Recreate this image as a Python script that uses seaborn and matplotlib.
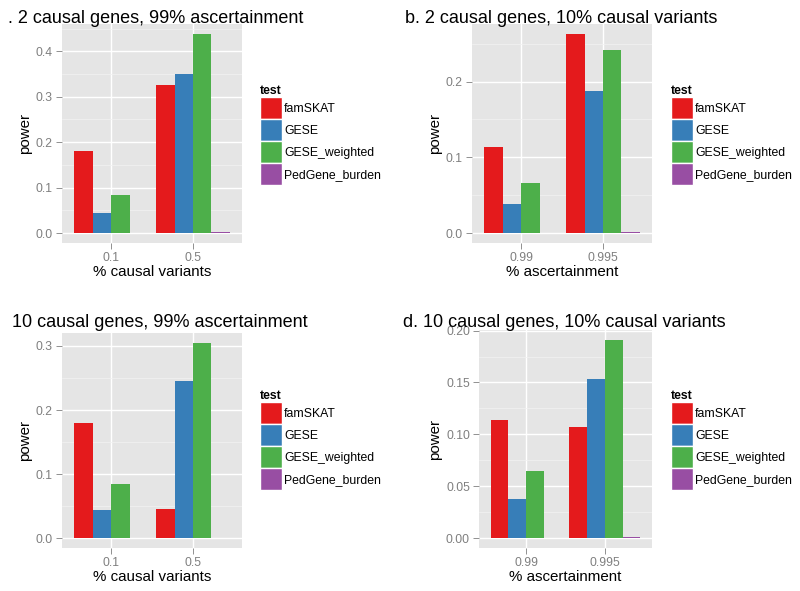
import numpy as np
import pandas as pd
import matplotlib
matplotlib.use("Agg")
import matplotlib.pyplot as plt
from matplotlib.patches import Patch
from matplotlib.ticker import MultipleLocator, FormatStrFormatter
import seaborn as sns

# data
tests = ["famSKAT", "GESE", "GESE_weighted", "PedGene_burden"]
test_colors = ["#E41A1C", "#377EB8", "#4DAF4A", "#984EA3"]

pct_causal = ["0.1", "0.5"]
pct_ascert = ["0.99", "0.995"]

# one list per test, values for the two x categories
power_a = [[0.180, 0.326], [0.044, 0.350], [0.084, 0.438], [0.0, 0.003]]
power_b = [[0.114, 0.263], [0.038, 0.187], [0.066, 0.242], [0.0, 0.001]]
power_c = [[0.180, 0.045], [0.044, 0.246], [0.084, 0.305], [0.0, 0.0]]
power_d = [[0.114, 0.107], [0.038, 0.153], [0.065, 0.191], [0.0, 0.001]]

titles = [". 2 causal genes, 99% ascertainment",
          "b. 2 causal genes, 10% causal variants",
          "10 causal genes, 99% ascertainment",
          "d. 10 causal genes, 10% causal variants"]

W, H = 800, 591
fig = plt.figure(figsize=(8, 5.91), dpi=100)
plt.rcParams["font.family"] = ["Liberation Sans", "DejaVu Sans"]


def long_df(cats, vals):
    rows = []
    for t, v in zip(tests, vals):
        for c, p in zip(cats, v):
            rows.append({"x": c, "power": p, "test": t})
    return pd.DataFrame(rows)


# panel boxes in pixels: left, right, top, bottom
panels = [
    (power_a, pct_causal, "% causal variants", (62, 242, 24, 243), 0.1, (8, 23), (260, 85)),
    (power_b, pct_ascert, "% ascertainment", (472, 652, 24, 243), 0.1, (405, 23), (671, 85)),
    (power_c, pct_causal, "% causal variants", (62, 242, 333, 548), 0.1, (12, 327), (260, 390)),
    (power_d, pct_ascert, "% ascertainment", (479, 652, 330, 548), 0.05, (403, 327), (671, 390)),
]

for i, (vals, cats, xlab, box, step, tpos, lpos) in enumerate(panels):
    l, r, t, b = box
    ax = fig.add_axes([l / W, 1 - b / H, (r - l) / W, (b - t) / H])
    df = long_df(cats, vals)
    sns.barplot(data=df, x="x", y="power", hue="test", hue_order=tests,
                order=cats, palette=test_colors, saturation=1, width=0.9,
                linewidth=0, ax=ax, legend=False, errorbar=None)
    ax.set_facecolor("#E5E5E5")
    for s in ax.spines.values():
        s.set_visible(False)
    ymax = max(max(v) for v in vals)
    ax.set_ylim(-0.05 * ymax, 1.05 * ymax)
    ax.set_xlim(-0.6, 1.6)
    ax.yaxis.set_major_locator(MultipleLocator(step))
    ax.yaxis.set_minor_locator(MultipleLocator(step / 2))
    ax.yaxis.set_major_formatter(FormatStrFormatter("%.2f" if step == 0.05 else "%.1f"))
    ax.set_axisbelow(True)
    ax.grid(which="major", color="white", linewidth=1.0)
    ax.grid(which="minor", axis="y", color="#F2F2F2", linewidth=0.5)
    ax.tick_params(which="major", colors="#7F7F7F", length=4, width=0.6,
                   labelsize=8.7, pad=2.5)
    ax.tick_params(which="minor", length=0)
    ax.set_xlabel(xlab, fontsize=10.9, labelpad=1)
    ax.set_ylabel("power", fontsize=10.9, labelpad=3)

    fig.text(tpos[0] / W, 1 - tpos[1] / H, titles[i], fontsize=13,
             ha="left", va="baseline")

    handles = [Patch(facecolor=c, edgecolor="white", linewidth=1.0) for c in test_colors]
    ax.legend(handles, tests, loc="upper left",
              bbox_to_anchor=(lpos[0] / W, 1 - lpos[1] / H),
              bbox_transform=fig.transFigure, frameon=False,
              borderpad=0, borderaxespad=0, labelspacing=0,
              handlelength=1.78, handleheight=2.4, handletextpad=0.2,
              fontsize=8.8, title="test", alignment="left",
              title_fontproperties={"weight": "bold", "size": 8.8})

fig.savefig("out.png", dpi=100, facecolor="white")
